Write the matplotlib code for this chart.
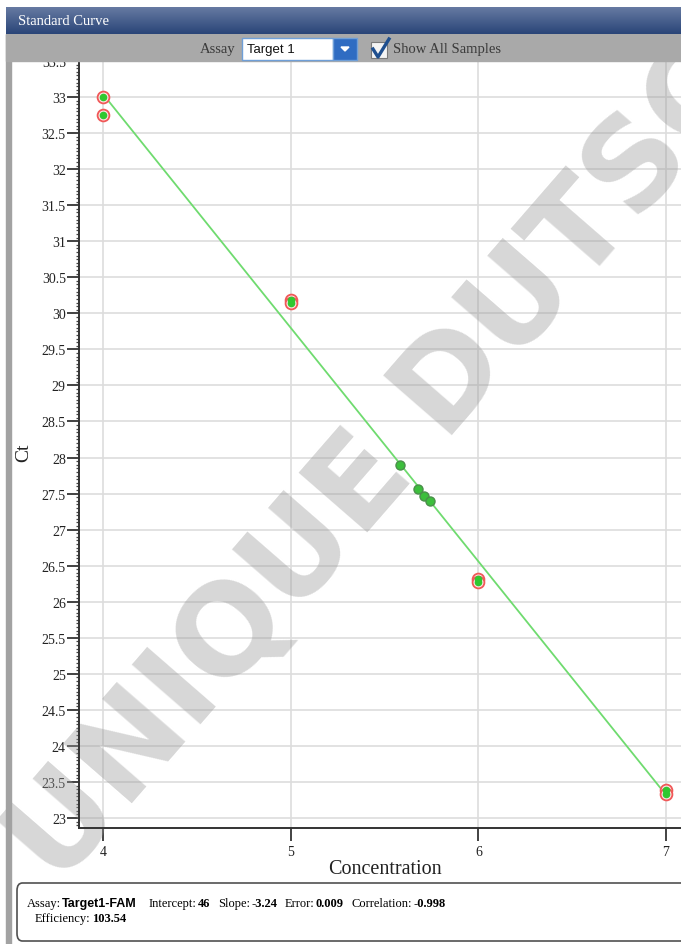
import numpy as np
import matplotlib.pyplot as plt
from matplotlib.patches import Rectangle, FancyBboxPatch, Polygon
from matplotlib.lines import Line2D
from matplotlib.ticker import MultipleLocator, FormatStrFormatter

plt.rcParams['font.family'] = ['Liberation Serif', 'DejaVu Serif']

# standards (red ring) and unknown samples
std_conc = [4, 4, 5, 5, 6, 6, 7, 7]
std_ct = [33.00, 32.75, 30.19, 30.15, 26.32, 26.27, 23.39, 23.33]
unk_conc = [5.58, 5.68, 5.71, 5.74]
unk_ct = [27.90, 27.57, 27.47, 27.39]

# fit result
slope = -3.24
intercept = 46
fit_range = [4, 7]

assay_name = 'Target1-FAM'
stats = [('Intercept:', '46'), ('Slope:', '-3.24'), ('Error:', '0.009'),
         ('Correlation:', '-0.998')]
efficiency = '103.54'

W, H = 681, 945
fig = plt.figure(figsize=(W / 100, H / 100), dpi=100)
fig.patch.set_facecolor('white')
renderer = fig.canvas.get_renderer()


def fx(x):
    return x / W


def fy(y):
    return 1 - y / H


# main plot
ax = fig.add_axes([fx(79), fy(829), fx(681) - fx(79), fy(62) - fy(829)])
ax.set_xlim(3.872, 7.080)
ax.set_ylim(22.861, 33.5)

ax.xaxis.set_major_locator(MultipleLocator(1))
ax.yaxis.set_major_locator(MultipleLocator(0.5))
ax.yaxis.set_minor_locator(MultipleLocator(0.05))
ax.yaxis.set_major_formatter(FormatStrFormatter('%g'))
ax.xaxis.set_major_formatter(FormatStrFormatter('%d'))
ax.grid(True, which='major', color='#dddddd', lw=1.2, zorder=0)
ax.set_axisbelow(True)

for s in ax.spines.values():
    s.set_color('#333333')
    s.set_linewidth(1.4)
ax.spines['right'].set_visible(False)

ax.tick_params(axis='y', which='major', length=8.5, width=1.2, pad=1,
               labelsize=10, colors='#222222')
ax.tick_params(axis='y', which='minor', length=2.5, width=0.9, colors='#444444')
ax.tick_params(axis='x', which='major', length=9.5, width=1.2, pad=3,
               labelsize=10, colors='#222222')

ax.set_ylabel('Ct', fontsize=14, color='#222222')
ax.yaxis.set_label_coords(-0.078, 0.49)
ax.set_xlabel('Concentration', fontsize=14.5, color='#222222', va='top')
ax.xaxis.set_label_coords(0.508, -0.040)

# watermark
ax.text(fx(380), fy(465), 'UNIQUE DUTSC', transform=fig.transFigure,
        rotation=49, ha='center', va='center', fontsize=90,
        fontweight='bold', family='DejaVu Sans', color='#9a9a9a',
        alpha=0.4, clip_on=False, zorder=2)

# fit line
fit_y = [intercept + slope * c for c in fit_range]
ax.plot(fit_range, fit_y, color='#6fdb6f', lw=1.3, zorder=3)

# points
ax.plot(unk_conc, unk_ct, 'o', ms=6.5, color='#3cbf3c', mec='#4a8f4a',
        mew=1.0, zorder=4, ls='none')
ax.plot(std_conc, std_ct, 'o', ms=8.5, mfc='#ffe4e4', mec='#f05858',
        mew=1.3, zorder=4, ls='none')
ax.plot(std_conc, std_ct, 'o', ms=4.5, color='#30c830', mec='#30c830',
        zorder=5, ls='none')

# left gray frame strip
fig.add_artist(Rectangle((fx(6), fy(945)), fx(5), fy(35) - fy(945),
                         transform=fig.transFigure, color='#a2a2a2', zorder=5))

# title bar gradient
tb = fig.add_axes([fx(6), fy(35), 1 - fx(6), fy(8) - fy(35)], zorder=6)
grad = np.linspace(0, 1, 50).reshape(-1, 1)
c_top = np.array([0x66, 0x7a, 0xa2]) / 255
c_bot = np.array([0x2a, 0x45, 0x78]) / 255
img = c_top[None, None, :] * (1 - grad[:, :, None]) + c_bot[None, None, :] * grad[:, :, None]
tb.imshow(img, aspect='auto', extent=[0, 1, 0, 1])
tb.set_axis_off()
fig.text(fx(18), fy(21.5), 'Standard Curve', color='white', fontsize=10.5,
         va='center', ha='left', zorder=7)

# toolbar
fig.add_artist(Rectangle((fx(6), fy(62)), 1 - fx(6), fy(35) - fy(62),
                         transform=fig.transFigure, color='#a9a9a9', zorder=5))
fig.text(fx(200), fy(50), 'Assay', color='#3a3a3a', fontsize=10.5,
         va='center', ha='left', zorder=7)
fig.add_artist(Rectangle((fx(242), fy(61)), fx(91), fy(39) - fy(61),
                         transform=fig.transFigure, fc='white', ec='#6f9fd8',
                         lw=1, zorder=6))
fig.text(fx(247), fy(50), 'Target 1', color='#111111', fontsize=9.5,
         family='Liberation Sans', va='center', ha='left', zorder=7)
fig.add_artist(Rectangle((fx(333), fy(61)), fx(24), fy(39) - fy(61),
                         transform=fig.transFigure, fc='#2f6cc2', ec='#6f9fd8',
                         lw=1, zorder=6))
fig.add_artist(Polygon([(fx(341), fy(48)), (fx(349), fy(48)), (fx(345), fy(52))],
                       closed=True, transform=fig.transFigure, color='white',
                       zorder=7))
fig.add_artist(Rectangle((fx(371), fy(59)), fx(16), fy(43) - fy(59),
                         transform=fig.transFigure, fc='#f4f4f4', ec='#7a7a7a',
                         lw=0.8, zorder=6))
fig.add_artist(Line2D([fx(373), fx(378), fx(389)], [fy(50), fy(58), fy(40)],
                      transform=fig.transFigure, color='#1f4f8f', lw=2.4,
                      zorder=7))
fig.text(fx(393), fy(50), 'Show All Samples', color='#3a3a3a', fontsize=10.5,
         va='center', ha='left', zorder=7)

# info box
fig.add_artist(FancyBboxPatch((fx(17), fy(942)), fx(690) - fx(17), fy(884) - fy(942),
                              boxstyle='round,pad=0,rounding_size=0.008',
                              transform=fig.transFigure, fc='white', ec='#505050',
                              lw=1.2, zorder=5))


def flow(pieces, x0, y):
    # lay texts one after another along a row
    x = x0
    for txt, bold, gap, fam in pieces:
        t = fig.text(fx(x), fy(y), txt, fontsize=9, va='center', zorder=7,
                     fontweight='bold' if bold else 'normal',
                     family=fam)
        bb = t.get_window_extent(renderer)
        x = bb.x1 + gap


serif = ['Liberation Serif', 'DejaVu Serif']
row = [('Assay:', False, 1, serif), (assay_name, True, 12, 'Liberation Sans')]
for lab, val in stats:
    row.append((lab, False, 1, serif))
    row.append((val, True, 8, serif))
flow(row, 27, 904)
flow([('Efficiency:', False, 1, serif), (efficiency, True, 0, serif)], 35, 919)

fig.savefig('out.png', dpi=100)
